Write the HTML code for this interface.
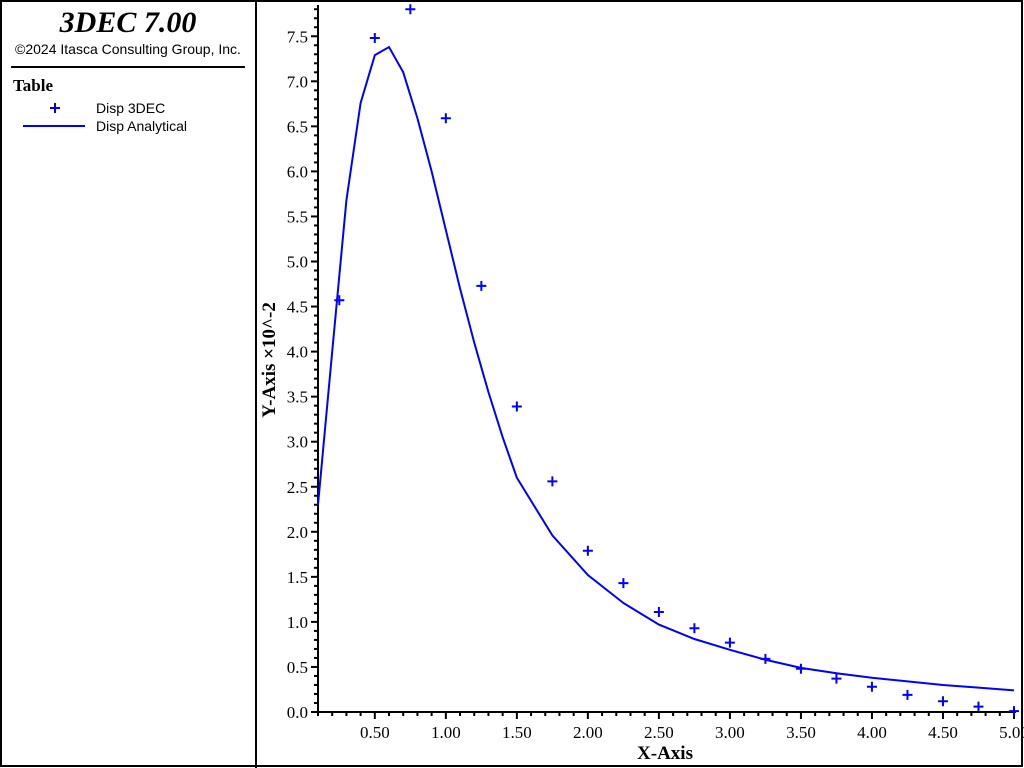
<!DOCTYPE html>
<html><head><meta charset="utf-8"><style>
body{margin:0;background:#fff;}
svg{display:block;font-family:"Liberation Serif",serif;}
</style></head><body>
<svg width="1024" height="768">
<rect x="1" y="1" width="1021" height="765" fill="#fff" stroke="#000" stroke-width="2"/>
<line x1="256" y1="0" x2="256" y2="768" stroke="#000" stroke-width="2"/>
<g>
<text x="128" y="32" text-anchor="middle" font-size="30" font-weight="bold" font-style="italic">3DEC 7.00</text>
<text x="128" y="54" text-anchor="middle" font-size="14" font-family="Liberation Sans, sans-serif">©2024 Itasca Consulting Group, Inc.</text>
<line x1="11" y1="67" x2="245" y2="67" stroke="#000" stroke-width="2"/>
<text x="13" y="91" font-size="17" font-weight="bold">Table</text>
<g>
<path d="M50 108h10M55 103v10" stroke="#00f" stroke-width="2"/>
<text x="96" y="113" font-size="14" font-family="Liberation Sans, sans-serif">Disp 3DEC</text></g>
<g>
<line x1="23" y1="126" x2="85" y2="126" stroke="#00f" stroke-width="2"/>
<text x="96" y="131" font-size="14" font-family="Liberation Sans, sans-serif">Disp Analytical</text></g>
</g>
<g id="axes"></g>
<g id="plot"></g>
<text x="665" y="759" text-anchor="middle" font-size="19" font-weight="bold">X-Axis</text>
<text transform="translate(275,360) rotate(-90)" text-anchor="middle" font-size="19" font-weight="bold">Y-Axis ×10^-2</text>
</svg>
<script>
const lineX=[0.1,0.2,0.3,0.4,0.5,0.6,0.7,0.8,0.9,1.0,1.1,1.2,1.3,1.4,1.5,1.75,2.0,2.25,2.5,2.75,3.0,3.25,3.5,3.75,4.0,4.25,4.5,4.75,5.0];
const lineY=[2.3,4.0,5.68,6.76,7.29,7.38,7.1,6.59,6.0,5.35,4.7,4.1,3.55,3.05,2.6,1.96,1.52,1.21,0.97,0.81,0.69,0.58,0.49,0.43,0.38,0.34,0.30,0.27,0.24];
const ptX=[0.25,0.5,0.75,1.0,1.25,1.5,1.75,2.0,2.25,2.5,2.75,3.0,3.25,3.5,3.75,4.0,4.25,4.5,4.75,5.0];
const ptY=[4.57,7.48,7.8,6.59,4.73,3.39,2.56,1.79,1.43,1.11,0.93,0.77,0.59,0.48,0.37,0.28,0.19,0.12,0.06,0.01];
const xTicks=["0.50","1.00","1.50","2.00","2.50","3.00","3.50","4.00","4.50","5.00"];
const yTicks=["0.0","0.5","1.0","1.5","2.0","2.5","3.0","3.5","4.0","4.5","5.0","5.5","6.0","6.5","7.0","7.5"];
const X0=318,X1=1014,xmin=0.1,xmax=5.0,Y0=712,ypx=90.1;
const sx=v=>X0+(v-xmin)/(xmax-xmin)*(X1-X0);
const sy=v=>Y0-v*ypx;
const NS="http://www.w3.org/2000/svg";
function mk(t,a,p){const e=document.createElementNS(NS,t);for(const k in a)e.setAttribute(k,a[k]);p.appendChild(e);return e;}
const ax=document.getElementById('axes'),pl=document.getElementById('plot');
const yl=mk('line',{x1:X0,y1:5,x2:X0,y2:Y0,stroke:'#000','stroke-width':2},ax);


const xl=mk('line',{x1:X0,y1:Y0,x2:X1+2,y2:Y0,stroke:'#000','stroke-width':2},ax);


for(let i=0;i<=78;i++){const v=i/10;const y=sy(v);if(y<5)break;const maj=i%5==0;
 mk('line',{x1:X0-(maj?7:4),y1:y,x2:X0,y2:y,stroke:'#000','stroke-width':2},ax);}
for(let i=1;i<=50;i++){const v=i/10;const x=sx(v);const maj=i%5==0;
 mk('line',{x1:x,y1:Y0,x2:x,y2:Y0+(maj?7:4),stroke:'#000','stroke-width':2},ax);}
yTicks.forEach(t=>{const e=mk('text',{x:X0-10,y:sy(+t)+6,'text-anchor':'end','font-size':17},ax);e.textContent=t;
 
 });
xTicks.forEach(t=>{const e=mk('text',{x:sx(+t),y:Y0+26,'text-anchor':'middle','font-size':17},ax);e.textContent=t;
 
 });
const ln=mk('polyline',{points:lineX.map((x,i)=>sx(x)+','+sy(lineY[i])).join(' '),fill:'none',stroke:'#00f','stroke-width':2},pl);


ptX.forEach((x,i)=>{const cx=sx(x),cy=sy(ptY[i]);
 const p=mk('path',{d:`M${cx-5} ${cy}h10M${cx} ${cy-5}v10`,stroke:'#00f','stroke-width':2},pl);
 
 });
</script>
</body></html>
